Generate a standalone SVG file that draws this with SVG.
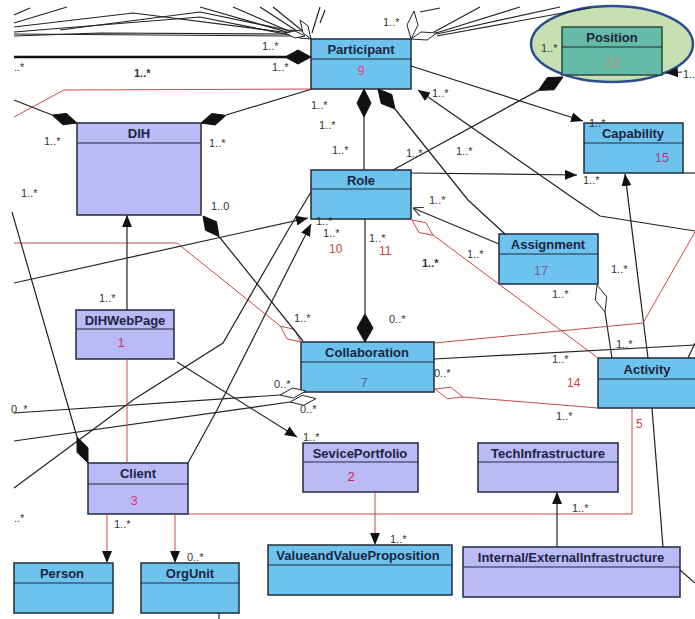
<svg xmlns="http://www.w3.org/2000/svg" width="695" height="619" viewBox="0 0 695 619">
<style>
.bl{fill:#6dc3ee;stroke:#1e2d3d;stroke-width:1.5}
.lv{fill:#babaf7;stroke:#1e2d3d;stroke-width:1.5}
.dv{stroke:#1e2d3d;stroke-width:1.2}
.t{font-family:'Liberation Sans',Arial,sans-serif;font-size:13px;font-weight:bold;fill:#1a2540;text-anchor:middle}
.n{font-family:'Liberation Sans',Arial,sans-serif;font-size:13px;text-anchor:middle}
.c{fill:none;stroke:#222;stroke-width:1.2}
.r{fill:none;stroke:#c84848;stroke-width:1}
.fd{fill:#111;stroke:#111;stroke-width:1}
.hd{fill:#fff;stroke:#222;stroke-width:1}
.hr{fill:#fff;stroke:#c84848;stroke-width:1}
.lb{font-family:'Liberation Sans',Arial,sans-serif;font-size:11px;fill:#333}
.rl{font-family:'Liberation Sans',Arial,sans-serif;font-size:12px;fill:#d04040}
</style>
<defs>
<marker id="a" markerWidth="12" markerHeight="10" refX="12" refY="5" orient="auto" markerUnits="userSpaceOnUse"><path d="M0,0L12,5L0,10z" fill="#111"/></marker>
<marker id="o" markerWidth="10" markerHeight="10" refX="10" refY="5" orient="auto" markerUnits="userSpaceOnUse"><path d="M0,0L10,5L0,10" fill="none" stroke="#222"/></marker>
</defs>
<rect width="695" height="619" fill="#fff"/>
<ellipse cx="612" cy="44" rx="81" ry="38" fill="#c6e0b2" stroke="#2e4d8f" stroke-width="2.5"/>

<g id="nodes">
<g id="participant"><rect class="bl" x="311" y="39" width="100" height="50"/><line class="dv" x1="311" y1="59" x2="411" y2="59"/><text class="t" x="361" y="54">Participant</text><text class="n" x="361" y="75" fill="#e8407a">9</text></g>
<g id="position"><rect x="562" y="27" width="100" height="48" fill="#66bba6" stroke="#2a4a40" stroke-width="1.5"/><line class="dv" x1="562" y1="47" x2="662" y2="47"/><text class="t" x="612" y="42" fill="#2a3a3a">Position</text><text class="n" x="612" y="67" fill="#c09070">22</text></g>
<g id="capability"><rect class="bl" x="584" y="123" width="99" height="50"/><line class="dv" x1="584" y1="143" x2="683" y2="143"/><text class="t" x="633" y="138">Capability</text><text class="n" x="662" y="162" fill="#c0308a">15</text></g>
<g id="dih"><rect class="lv" x="77" y="123" width="124" height="92"/><line class="dv" x1="77" y1="143" x2="201" y2="143"/><text class="t" x="139" y="138">DIH</text></g>
<g id="role"><rect class="bl" x="311" y="170" width="100" height="49"/><line class="dv" x1="311" y1="189" x2="411" y2="189"/><text class="t" x="361" y="185">Role</text></g>
<g id="assignment"><rect class="bl" x="499" y="234" width="99" height="50"/><line class="dv" x1="499" y1="254" x2="598" y2="254"/><text class="t" x="548" y="249">Assignment</text><text class="n" x="541" y="275" fill="#7a5ca8">17</text></g>
<g id="dihwebpage"><rect class="lv" x="76" y="310" width="98" height="49"/><line class="dv" x1="76" y1="329" x2="174" y2="329"/><text class="t" x="125" y="325">DIHWebPage</text><text class="n" x="121" y="347" fill="#d03070">1</text></g>
<g id="collaboration"><rect class="bl" x="301" y="342" width="133" height="50"/><line class="dv" x1="301" y1="362" x2="434" y2="362"/><text class="t" x="367" y="357">Collaboration</text><text class="n" x="364" y="387" fill="#6060a8">7</text></g>
<g id="activity"><rect class="bl" x="598" y="358" width="100" height="50"/><line class="dv" x1="598" y1="379" x2="698" y2="379"/><text class="t" x="647" y="374">Activity</text></g>
<g id="client"><rect class="lv" x="88" y="463" width="100" height="51"/><line class="dv" x1="88" y1="484" x2="188" y2="484"/><text class="t" x="138" y="478">Client</text><text class="n" x="134" y="505" fill="#e03080">3</text></g>
<g id="seviceportfolio"><rect class="lv" x="303" y="443" width="115" height="49"/><line class="dv" x1="303" y1="462" x2="418" y2="462"/><text class="t" x="360" y="458">SevicePortfolio</text><text class="n" x="351" y="481" fill="#d02050">2</text></g>
<g id="techinfrastructure"><rect class="lv" x="478" y="443" width="140" height="49"/><line class="dv" x1="478" y1="462" x2="618" y2="462"/><text class="t" x="548" y="458">TechInfrastructure</text></g>
<g id="valueproposition"><rect class="bl" x="268" y="545" width="184" height="50"/><line class="dv" x1="268" y1="565" x2="452" y2="565"/><text class="t" x="358" y="560">ValueandValueProposition</text></g>
<g id="infrastructure"><rect class="lv" x="463" y="547" width="217" height="50"/><line class="dv" x1="463" y1="567" x2="680" y2="567"/><text class="t" x="571" y="562">Internal/ExternalInfrastructure</text></g>
<g id="person"><rect class="bl" x="14" y="563" width="99" height="50"/><line class="dv" x1="14" y1="583" x2="113" y2="583"/><text class="t" x="62" y="578">Person</text></g>
<g id="orgunit"><rect class="bl" x="141" y="563" width="98" height="50"/><line class="dv" x1="141" y1="583" x2="239" y2="583"/><text class="t" x="190" y="578">OrgUnit</text></g>
</g>

<g id="connectors">
<polyline class="c" points="14,15 30,8"/>
<polyline class="c" points="14,23 67,7"/>
<polyline class="c" points="14,27 133,13 290,33"/>
<polyline class="c" points="14,32 200,17 290,35"/>
<polyline class="c" points="14,34 292,36"/>
<polyline class="c" points="14,36 100,33 292,34"/>
<polyline class="c" points="60,30 200,12 292,31"/>
<polyline class="c" points="200,7 290,33"/>
<polyline class="c" points="233,7 293,33"/>
<polyline class="c" points="260,7 300,33"/>
<polyline class="c" points="273,7 310,37"/>
<polyline class="c" points="320,7 312,33"/>
<polyline class="c" points="325,10 320,23"/>
<polygon class="hd" points="311,39 299,38 290,30 302,31"/>
<polygon class="hd" points="311,39 303,33 300,20 308,26"/>
<polygon class="hd" points="305,36 295,38 285,33 295,31"/>
<polyline class="c" points="434,32 480,7"/>
<polyline class="c" points="436,33 520,7"/>
<polyline class="c" points="437,34 560,7"/>
<polyline class="c" points="437,36 590,8"/>
<polyline class="c" points="420,12 440,8"/>
<polygon class="hd" points="411,39 407,25 414,11 418,25"/>
<polygon class="hd" points="411,39 421,32 437,33 427,40"/>
<line x1="14" y1="57" x2="286" y2="57" stroke="#111" stroke-width="2.5"/>
<polygon class="fd" points="311,57 298,50 285,57 298,64"/>
<polyline class="r" points="312,89 64,90 14,117"/>
<line class="c" x1="14" y1="100" x2="52" y2="115"/>
<polygon class="fd" points="77,123 62.8,124.8 52.2,115.1 66.4,113.4"/>
<line class="c" x1="312" y1="89" x2="226" y2="115"/>
<polygon class="fd" points="201,123 215.2,125 225.9,115.4 211.7,113.5"/>
<line class="c" x1="364" y1="117" x2="364" y2="170"/>
<polygon class="fd" points="364,89 371,103 364,117 357,103"/>
<polyline class="c" points="395,109 468,200 505,234"/>
<polygon class="fd" points="378,89 381.2,103.5 395,109 391.8,94.5"/>
<line class="c" x1="411" y1="66" x2="583" y2="121" marker-end="url(#a)"/>
<polyline class="c" points="695,231 600,216 573,198 418,90" marker-end="url(#a)"/>
<line class="c" x1="393" y1="170" x2="538.4" y2="90.4"/>
<polygon class="fd" points="563,77 554.1,89.8 538.4,90.4 547.3,77.6"/>
<line class="c" x1="682" y1="72" x2="666" y2="73" marker-end="url(#a)"/>
<line class="c" x1="411" y1="173" x2="577" y2="175" marker-end="url(#a)"/>
<line class="c" x1="683" y1="173" x2="695" y2="173"/>
<line class="c" x1="648" y1="358" x2="625" y2="174" marker-end="url(#a)"/>
<line class="c" x1="499" y1="244" x2="413" y2="208" marker-end="url(#o)"/>
<line class="c" x1="605" y1="312" x2="612" y2="358"/>
<polygon class="hd" points="597,285 595.3,300.2 605,312 606.7,296.8"/>
<line class="c" x1="365" y1="219" x2="365" y2="314"/>
<polygon class="fd" points="365,342 373,328 365,314 357,328"/>
<line class="r" x1="433" y1="235" x2="598" y2="358"/>
<polygon class="hr" points="412,220 419,232.5 433,235.3 426,222.8"/>
<line class="c" x1="434" y1="359" x2="695" y2="345"/>
<line class="c" x1="688" y1="358" x2="695" y2="343"/>
<polyline class="r" points="434,343 643,323 695,232"/>
<line class="r" x1="463" y1="397" x2="598" y2="408"/>
<polygon class="hr" points="435,389 447.3,398.8 463,397 450.7,387.2"/>
<polyline class="r" points="14,243 177,243 280.4,326.2"/>
<polygon class="hr" points="301,342 287.1,338.9 280.4,326.2 294.3,329.3"/>
<line class="c" x1="219" y1="236.5" x2="303" y2="341"/>
<polygon class="fd" points="203,216 205.5,230.3 219,236.5 216.5,221.7"/>
<line class="c" x1="14" y1="283" x2="308" y2="218" marker-end="url(#a)"/>
<polyline class="c" points="14,488 133,400 223,343 287,232 311,192"/>
<polyline class="c" points="188,463 217,410 311,224" marker-end="url(#a)"/>
<line class="c" x1="12" y1="212" x2="77" y2="437"/>
<polygon class="fd" points="88,463 77,452.3 77,437 88,447.7"/>
<line class="c" x1="14" y1="413" x2="280" y2="395"/>
<polygon class="hd" points="306,391 293.4,398 280,395 292.6,388"/>
<line class="c" x1="14" y1="441" x2="290" y2="402"/>
<polygon class="hd" points="316,398.6 303.6,405.3 290,402 302.4,395.3"/>
<line class="c" x1="127" y1="310" x2="127" y2="215" marker-end="url(#a)"/>
<line class="r" x1="127" y1="359" x2="127" y2="463"/>
<line class="c" x1="177" y1="362" x2="297" y2="437" marker-end="url(#a)"/>
<line class="r" x1="107" y1="514" x2="107" y2="563" marker-end="url(#a)"/>
<line class="r" x1="175" y1="514" x2="175" y2="563" marker-end="url(#a)"/>
<polyline class="r" points="188,514 632,514 632,408"/>
<line class="r" x1="375" y1="492" x2="375" y2="545" marker-end="url(#a)"/>
<line class="c" x1="557" y1="547" x2="557" y2="492" marker-end="url(#a)"/>
<line class="c" x1="652" y1="408" x2="663" y2="547"/>
<line class="c" x1="680" y1="570" x2="695" y2="583"/>
<line class="c" x1="219" y1="613" x2="219" y2="619"/>
</g>

<g id="labels">
<text class="lb" x="262" y="50">1..*</text>
<text class="lb" x="272" y="71">1..*</text>
<text class="lb" x="14" y="71">..*</text>
<text class="lb" x="134" y="77" font-weight="bold">1..*</text>
<text class="lb" x="383" y="26">1..*</text>
<text class="lb" x="541" y="52">1..*</text>
<text class="lb" x="683" y="78">1..</text>
<text class="lb" x="432" y="97">1..*</text>
<text class="lb" x="589" y="127">1..*</text>
<text class="lb" x="583" y="184">1..*</text>
<text class="lb" x="406" y="157">1..*</text>
<text class="lb" x="456" y="155">1..*</text>
<text class="lb" x="311" y="109">1..*</text>
<text class="lb" x="319" y="129">1..*</text>
<text class="lb" x="332" y="154">1..*</text>
<text class="lb" x="44" y="145">1..*</text>
<text class="lb" x="209" y="147">1..*</text>
<text class="lb" x="21" y="197">1..*</text>
<text class="lb" x="211" y="210">1..0</text>
<text class="lb" x="99" y="302">1..*</text>
<text class="lb" x="294" y="322">1..*</text>
<text class="lb" x="316" y="225">1..*</text>
<text class="lb" x="323" y="237">1..*</text>
<text class="rl" x="329" y="253">10</text>
<text class="lb" x="369" y="242">1..*</text>
<text class="rl" x="379" y="255">11</text>
<text class="lb" x="422" y="267" font-weight="bold">1..*</text>
<text class="lb" x="467" y="258">1..*</text>
<text class="lb" x="429" y="204">1..*</text>
<text class="lb" x="389" y="323">0..*</text>
<text class="lb" x="611" y="273">1..*</text>
<text class="lb" x="552" y="298">1..*</text>
<text class="lb" x="616" y="348" font-size="12">1..*</text>
<text class="lb" x="552" y="363">1..*</text>
<text class="rl" x="567" y="387">14</text>
<text class="lb" x="434" y="377">0..*</text>
<text class="lb" x="556" y="420">1..*</text>
<text class="rl" x="636" y="428">5</text>
<text class="lb" x="572" y="512">1..*</text>
<text class="lb" x="390" y="543">1..*</text>
<text class="lb" x="187" y="561">0..*</text>
<text class="lb" x="114" y="528">1..*</text>
<text class="lb" x="14" y="522">..*</text>
<text class="lb" x="11" y="413">0..*</text>
<text class="lb" x="274" y="388">0..*</text>
<text class="lb" x="300" y="413">0..*</text>
<text class="lb" x="303" y="441">1..*</text>
</g>
</svg>
